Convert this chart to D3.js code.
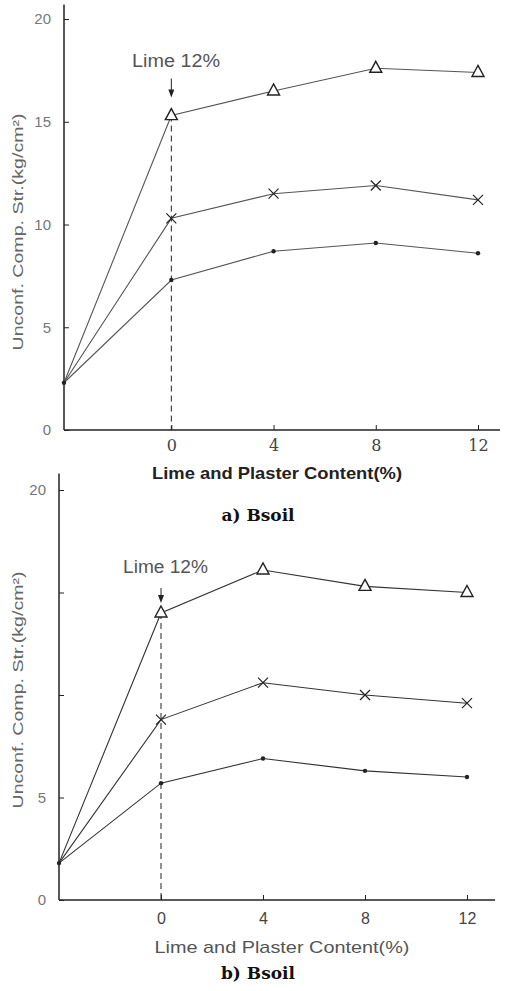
<!DOCTYPE html>
<html><head><meta charset="utf-8">
<script src="https://cdn.jsdelivr.net/npm/d3@7"></script>
<style>body{margin:0;background:#fff}svg{display:block}</style>
</head><body>
<svg id="c" width="510" height="991"></svg>
<script>
// ---- data ----
const xCats = [0, 4, 8, 12];           // lime+plaster content (%)
const xTickLabels = ["0", "4", "8", "12"];
// panel a (Bsoil)
const aStartX = -4.2, aStartY = 2.3;    // untreated soil at origin
const aTriangle = [15.3, 16.5, 17.6, 17.4];
const aCross    = [10.3, 11.5, 11.9, 11.2];
const aDot      = [7.3, 8.7, 9.1, 8.6];
const aYTicks = [0, 5, 10, 15, 20];
const aYTickLabels = ["0", "5", "10", "15", "20"];
// panel b (Bsoil)
const bStartX = -4.0, bStartY = 1.8;
const bTriangle = [14.0, 16.1, 15.3, 15.0];
const bCross    = [8.8, 10.6, 10.0, 9.6];
const bDot      = [5.7, 6.9, 6.3, 6.0];
const bYTicks = [0, 5, 10, 15, 20];
const bYTickLabels = ["0", "5", "", "", "20"];

const svg = d3.select("#c");
const ink = "#222";
const sans = "Liberation Sans, Arial, sans-serif";

function panel(o) {
  const x = d3.scaleLinear().domain([o.startX, 12]).range(o.xr);
  const y = d3.scaleLinear().domain([0, 20]).range(o.yr);
  const g = svg.append("g");
  // axes
  const ax = d3.axisBottom(x).tickValues(xCats).tickFormat((d, i) => xTickLabels[i])
    .tickSizeInner(-5).tickSizeOuter(0).tickPadding(o.xTickPad);
  const xg = g.append("g").attr("transform", `translate(0,${y(0)})`).call(ax);
  xg.select(".domain").attr("d", `M${x(o.startX)},0H${x(o.xEnd)}`).attr("stroke", ink).attr("stroke-width", 1.5);
  xg.selectAll(".tick line").attr("stroke", ink);
  xg.selectAll("text").attr("font-family", o.xTickFont).attr("font-size", 16).attr("fill", "#444");
  const ay = d3.axisLeft(y).tickValues(o.yTicks).tickFormat((d, i) => o.yTickLabels[i])
    .tickSizeInner(-5).tickSizeOuter(0).tickPadding(13);
  const yg = g.append("g").attr("transform", `translate(${x(o.startX)},0)`).call(ay);
  yg.select(".domain").attr("d", `M0,${y(0)}V${y(o.yEnd)}`).attr("stroke", ink).attr("stroke-width", 1.5);
  yg.selectAll(".tick line").attr("stroke", ink);
  yg.selectAll("text").attr("font-family", sans).attr("font-size", 15).attr("fill", "#777");

  // dashed line at 0 and arrow
  const ty = y(o.tri[0]);
  g.append("line").attr("x1", x(0)).attr("x2", x(0)).attr("y1", ty).attr("y2", y(0))
    .attr("stroke", ink).attr("stroke-dasharray", "6,4").attr("stroke-width", 1);
  g.append("line").attr("x1", x(0)).attr("x2", x(0)).attr("y1", ty - o.arrowTop).attr("y2", ty - o.arrowTip - 5)
    .attr("stroke", ink).attr("stroke-width", 1);
  g.append("path").attr("d", `M${x(0)-3},${ty-o.arrowTip-8}L${x(0)+3},${ty-o.arrowTip-8}L${x(0)},${ty-o.arrowTip}Z`).attr("fill", ink);
  g.append("text").attr("x", o.limeX).attr("y", ty - o.labelOff).text("Lime 12%")
    .attr("font-family", sans).attr("font-size", 18).attr("textLength", o.limeW).attr("lengthAdjust", "spacingAndGlyphs")
    .attr("fill", "#555");

  const line = d3.line().x(d => x(d[0])).y(d => y(d[1]));
  const series = [o.tri, o.cross, o.dot];
  series.forEach(s => {
    const pts = [[o.startX, o.startY]].concat(xCats.map((c, i) => [c, s[i]]));
    g.append("path").attr("d", line(pts)).attr("fill", "none").attr("stroke", o.lineColor).attr("stroke-width", 1.1);
  });
  // markers
  g.selectAll(null).data(xCats.map((c, i) => [c, o.tri[i]])).join("path")
    .attr("d", d => `M${x(d[0])},${y(d[1])-7}L${x(d[0])+6},${y(d[1])+4}L${x(d[0])-6},${y(d[1])+4}Z`)
    .attr("fill", "#fff").attr("stroke", ink).attr("stroke-width", 1.4);
  g.selectAll(null).data(xCats.map((c, i) => [c, o.cross[i]])).join("path")
    .attr("d", d => `M${x(d[0])-5},${y(d[1])-5}L${x(d[0])+5},${y(d[1])+5}M${x(d[0])+5},${y(d[1])-5}L${x(d[0])-5},${y(d[1])+5}`)
    .attr("stroke", ink).attr("stroke-width", 1.2);
  g.selectAll(null).data(xCats.map((c, i) => [c, o.dot[i]])).join("circle")
    .attr("cx", d => x(d[0])).attr("cy", d => y(d[1])).attr("r", 2.2).attr("fill", ink);
  g.append("circle").attr("cx", x(o.startX)).attr("cy", y(o.startY)).attr("r", 2.2).attr("fill", ink);

  // y label
  g.append("text").attr("transform", `translate(${o.yLabX},${o.yLabY}) rotate(-90)`)
    .attr("text-anchor", "middle").attr("font-family", sans)
    .attr("font-size", 15).attr("textLength", 237).attr("lengthAdjust", "spacingAndGlyphs")
    .attr("fill", "#666").text("Unconf. Comp. Str.(kg/cm²)");
  // x title
  g.append("text").attr("x", o.xTitleX).attr("y", o.xTitleY).attr("text-anchor", "middle")
    .attr("font-family", sans).attr("font-size", 17).attr("textLength", o.xTitleW).attr("lengthAdjust", "spacingAndGlyphs")
    .attr("font-weight", o.xTitleWeight).attr("fill", o.xTitleColor).text("Lime and Plaster Content(%)");
  // caption
  g.append("text").attr("x", o.capX).attr("y", o.capY).attr("text-anchor", "middle")
    .attr("font-family", "DejaVu Serif, Liberation Serif, serif").attr("font-size", 17).attr("font-weight", "bold")
    .attr("fill", "#111").text(o.caption);
}

panel({
  startX: aStartX, startY: aStartY, xr: [64, 478], yr: [430, 19], xEnd: 12.86, yEnd: 20.7,
  tri: aTriangle, cross: aCross, dot: aDot, yTicks: aYTicks, yTickLabels: aYTickLabels,
  xTickFont: "DejaVu Serif, Liberation Serif, serif", lineColor: "#555", xTickPad: 10,
  arrowTop: 37, arrowTip: 18, labelOff: 49, limeX: 132, limeW: 88, yLabX: 23, yLabY: 232,
  xTitleX: 277, xTitleY: 479, xTitleW: 250, xTitleWeight: "bold", xTitleColor: "#222",
  capX: 258, capY: 521, caption: "a)  Bsoil"
});
panel({
  startX: bStartX, startY: bStartY, xr: [59, 467], yr: [900, 490], xEnd: 13.1, yEnd: 20.8,
  tri: bTriangle, cross: bCross, dot: bDot, yTicks: bYTicks, yTickLabels: bYTickLabels,
  xTickFont: sans, lineColor: "#333", xTickPad: 13,
  arrowTop: 25, arrowTip: 10, labelOff: 40, limeX: 123, limeW: 85, yLabX: 23, yLabY: 690,
  xTitleX: 282, xTitleY: 953, xTitleW: 255, xTitleWeight: "normal", xTitleColor: "#555",
  capX: 258, capY: 979, caption: "b)  Bsoil"
});
</script>
</body></html>
